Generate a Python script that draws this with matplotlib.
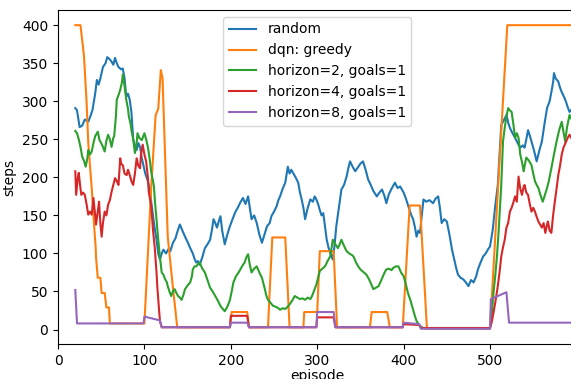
import matplotlib
matplotlib.use("Agg")
import matplotlib.pyplot as plt

# episode / steps readings for each agent
random_x = [20, 22, 25, 28, 31, 35, 38, 40, 43, 45, 47, 49, 52, 55, 57, 60, 62, 64, 66, 68,
            70, 73, 75, 77, 79, 81, 83, 85, 87, 89, 91, 93, 95, 97, 99, 101, 104, 106, 108, 111,
            114, 116, 118, 120, 122, 125, 128, 130, 133, 136, 138, 141, 144, 147, 150, 153, 156, 158, 160, 162,
            164, 167, 170, 173, 176, 178, 180, 182, 184, 186, 188, 190, 193, 196, 199, 202, 205, 208, 211, 214,
            217, 220, 222, 224, 227, 230, 233, 236, 239, 242, 245, 247, 250, 253, 255, 257, 260, 263, 266, 268,
            270, 272, 275, 278, 280, 282, 284, 286, 289, 292, 295, 297, 299, 301, 303, 305, 307, 309, 311, 313,
            315, 318, 320, 322, 325, 328, 331, 334, 336, 338, 341, 344, 347, 350, 353, 356, 359, 362, 365, 369,
            372, 375, 378, 380, 383, 386, 390, 393, 396, 400, 403, 406, 409, 411, 413, 415, 417, 419, 421, 423,
            426, 430, 434, 437, 440, 442, 444, 447, 450, 453, 456, 459, 461, 463, 466, 469, 472, 475, 478, 481,
            484, 486, 489, 492, 495, 498, 500, 503, 506, 509, 511, 513, 516, 519, 521, 523, 526, 529, 532, 535,
            538, 540, 542, 544, 546, 548, 551, 554, 557, 560, 563, 566, 569, 571, 573, 574, 576, 579, 581, 583,
            586, 588, 590, 592, 595, 598]
random_y = [291, 288, 266, 268, 276, 273, 282, 289, 310, 328, 322, 330, 345, 350, 358, 355, 352, 348, 357, 350,
            345, 342, 343, 330, 306, 310, 302, 285, 250, 242, 236, 245, 240, 225, 215, 205, 195, 185, 167, 140,
            118, 100, 92, 100, 105, 100, 106, 103, 114, 120, 128, 138, 130, 122, 115, 107, 100, 93, 88, 90,
            85, 95, 107, 112, 118, 130, 145, 140, 134, 142, 149, 130, 112, 125, 136, 145, 154, 160, 167, 173,
            165, 175, 160, 145, 150, 140, 125, 114, 125, 136, 140, 149, 155, 162, 170, 175, 185, 193, 214, 205,
            210, 206, 200, 193, 180, 171, 160, 145, 160, 171, 168, 175, 171, 165, 157, 150, 153, 135, 118, 108,
            101, 92, 110, 135, 160, 184, 190, 201, 212, 221, 214, 208, 213, 218, 221, 210, 197, 190, 182, 175,
            180, 184, 175, 166, 178, 185, 193, 186, 188, 180, 171, 160, 150, 145, 135, 122, 130, 127, 150, 171,
            168, 170, 166, 172, 175, 160, 140, 145, 142, 125, 105, 90, 80, 72, 68, 66, 62, 57, 65, 62,
            70, 79, 88, 96, 100, 106, 109, 130, 162, 190, 230, 269, 275, 282, 272, 265, 258, 252, 245, 239,
            242, 239, 250, 262, 255, 247, 235, 221, 235, 247, 270, 291, 300, 312, 325, 337, 330, 326, 318, 312,
            305, 299, 292, 286, 290, 300]

greedy_x = [20, 26, 27, 28, 30, 31, 33, 35, 37, 39, 41, 43.6, 44, 46, 49, 50.5, 54, 56, 59, 60,
            100, 108, 113, 116, 119, 121, 127, 133, 138, 199, 201, 219, 221, 243, 248, 263, 268, 284, 285, 300,
            303, 319, 323, 361, 363, 381, 384, 399, 407, 419, 427, 500, 520, 600]
greedy_y = [400, 400, 390, 380, 360, 341, 300, 246, 215, 186, 150, 107, 95, 68, 68, 48, 48, 29, 29, 8,
            8, 190, 282, 290, 341, 330, 122, 55, 3, 3, 23, 23, 3, 3, 121, 121, 3, 3, 23, 23,
            103, 103, 3, 3, 23, 23, 3, 3, 163, 163, 1, 1, 400, 400]

h2_x = [20, 22, 24, 26, 28, 30, 32, 34, 35, 37, 39, 41, 43, 45, 46, 48, 50, 52, 54, 56,
        58, 60, 62, 64, 65, 67, 68, 70, 72, 74, 75, 77, 79, 81, 82, 84, 85, 87, 89, 91,
        92, 94, 97, 99, 100, 102, 104, 106, 108, 110, 111, 112, 114, 116, 118, 120, 122, 124, 126, 127,
        129, 131, 133, 135, 137, 139, 141, 143, 145, 147, 150, 153, 155, 156, 158, 160, 162, 164, 167, 170,
        173, 176, 179, 182, 185, 188, 190, 193, 196, 199, 201, 203, 206, 209, 211, 214, 216, 218, 220, 222,
        224, 227, 230, 233, 236, 239, 241, 243, 246, 249, 252, 255, 257, 260, 263, 265, 268, 271, 274, 277,
        280, 283, 286, 289, 292, 294, 296, 299, 301, 303, 306, 309, 312, 315, 317, 318, 321, 324, 326, 328,
        331, 334, 337, 340, 342, 345, 348, 350, 353, 357, 360, 363, 365, 368, 371, 373, 376, 378, 380, 383,
        386, 388, 391, 394, 397, 400, 402, 405, 408, 411, 413, 415, 418, 421, 423, 500, 502, 504, 506, 508,
        510, 512, 513, 515, 517, 519, 521, 523, 525, 527, 529, 531, 533, 535, 537, 539, 540, 542, 545, 548,
        550, 552, 554, 556, 558, 561, 563, 566, 568, 571, 574, 577, 580, 583, 585, 587, 589, 592, 595, 598]
h2_y = [261, 258, 250, 240, 227, 222, 214, 225, 236, 230, 234, 245, 254, 258, 260, 249, 245, 240, 234, 248,
        256, 250, 240, 252, 254, 280, 302, 308, 315, 325, 335, 320, 302, 290, 280, 270, 262, 250, 232, 245,
        258, 252, 249, 255, 258, 250, 240, 225, 206, 195, 188, 171, 145, 118, 95, 75, 72, 66, 62, 57,
        50, 44, 50, 53, 48, 44, 42, 39, 45, 53, 58, 62, 70, 79, 83, 83, 86, 88, 80, 75,
        65, 55, 50, 44, 38, 31, 28, 24, 30, 39, 50, 62, 70, 75, 79, 85, 88, 95, 99, 85,
        75, 80, 83, 75, 68, 55, 45, 39, 35, 31, 30, 28, 26, 28, 27, 29, 33, 38, 44, 42,
        40, 41, 39, 42, 40, 44, 50, 59, 68, 77, 80, 83, 90, 96, 110, 118, 112, 107, 112, 118,
        110, 103, 100, 98, 96, 88, 82, 79, 76, 72, 66, 58, 53, 55, 57, 62, 70, 75, 79, 80,
        78, 81, 83, 83, 75, 70, 62, 48, 38, 26, 18, 11, 6, 3, 2, 2, 20, 48, 70, 96,
        130, 171, 190, 247, 265, 280, 291, 288, 286, 270, 252, 258, 252, 230, 220, 208, 215, 226, 222, 216,
        205, 195, 190, 186, 178, 168, 175, 186, 195, 212, 230, 247, 262, 273, 260, 247, 265, 282, 275, 270]

h4_x = [20, 21, 23, 24, 26, 27, 29, 31, 33, 35, 37, 39, 41, 43, 44, 46, 47.5, 49, 50.5, 52,
        54, 56, 58, 60, 62, 64, 66, 68, 70, 72, 73, 75, 77, 79.5, 81, 83, 85, 87, 89, 91,
        93, 95, 96, 98, 100, 102, 104, 105, 107, 108, 110, 112, 114, 115, 117, 118, 120, 199, 200, 219,
        221, 299, 300, 319, 321, 399, 400, 418, 420, 500, 502, 504, 506, 509, 511, 513, 515, 517, 519, 521,
        523, 525, 527, 529, 531, 533, 535, 537, 539, 540, 542, 544, 546, 548, 550, 552, 554, 556, 558, 560,
        562, 564, 566, 567, 569, 571, 573, 575, 577, 579, 581, 583, 585, 588, 590, 592, 595, 598]
h4_y = [208, 177, 200, 206, 185, 177, 180, 177, 165, 151, 155, 151, 173, 150, 138, 155, 168, 140, 122, 140,
        155, 150, 164, 170, 181, 190, 199, 195, 190, 225, 218, 216, 205, 203, 210, 203, 195, 190, 205, 225,
        215, 212, 230, 243, 230, 221, 200, 181, 168, 160, 130, 107, 75, 55, 25, 11, 3, 3, 18, 18,
        3, 3, 16, 16, 3, 3, 7, 6, 2, 2, 10, 22, 35, 57, 75, 96, 108, 118, 134, 140,
        155, 160, 167, 175, 168, 201, 185, 177, 188, 190, 180, 177, 165, 155, 160, 155, 148, 142, 138, 134,
        140, 127, 138, 142, 130, 127, 150, 168, 185, 203, 215, 230, 239, 247, 252, 256, 250, 255]

h8_x = [20, 22, 99, 100, 118, 120, 199, 200, 219, 221, 299, 300, 319, 321, 399, 400, 418, 420, 500, 501,
        519, 522, 600]
h8_y = [52, 8, 8, 17, 12, 3, 3, 9, 9, 3, 3, 23, 23, 3, 3, 9, 7, 1, 1, 40,
        49, 9, 9]

fig = plt.figure(figsize=(5.71, 3.79), dpi=100)
# axes run a little past the right edge, as in the cropped original
ax = fig.add_axes([0.1016, 0.0924, 0.9079, 0.8813])

ax.plot(random_x, random_y, label='random')
ax.plot(greedy_x, greedy_y, label='dqn: greedy')
ax.plot(h2_x, h2_y, label='horizon=2, goals=1')
ax.plot(h4_x, h4_y, label='horizon=4, goals=1')
ax.plot(h8_x, h8_y, label='horizon=8, goals=1')

ax.set_xlim(0, 600)
ax.set_ylim(-19, 420)
ax.set_yticks(range(0, 401, 50))
ax.set_xticks(range(0, 501, 100))
ax.set_xlabel('episode', labelpad=1)
ax.set_ylabel('steps')
ax.legend(loc='upper center')

fig.savefig('out.png', dpi=100)
